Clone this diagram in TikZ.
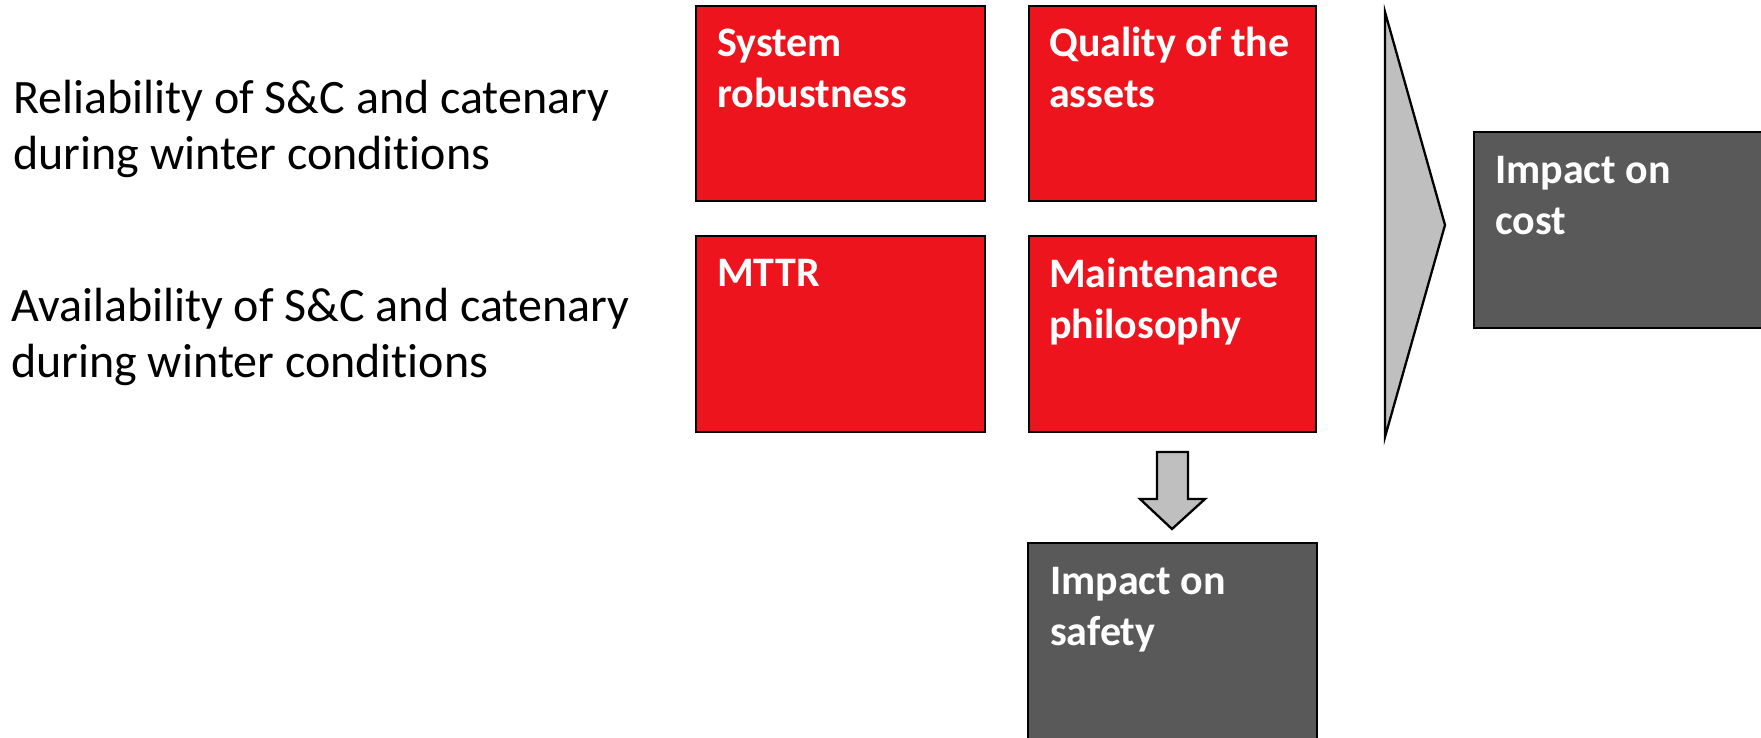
\documentclass[tikz,border=0pt]{standalone}
\usepackage{fontspec}
\setmainfont{Carlito}[Ligatures=NoCommon]
\definecolor{myred}{RGB}{237,20,30}
\definecolor{mygray}{RGB}{89,89,89}
\definecolor{arrowgray}{RGB}{191,191,191}
\begin{document}
\begin{tikzpicture}[x=1pt,y=-1pt,
  redbox/.style={draw=black, line width=2.3pt, fill=myred},
  graybox/.style={draw=black, line width=2.3pt, fill=mygray},
  boxtext/.style={text=white, font=\fontsize{42}{51}\selectfont\bfseries, align=left, inner sep=0pt, anchor=base west},
  sidetext/.style={text=black, font=\fontsize{48}{56}\selectfont, align=left, inner sep=0pt, anchor=base west},
  arrowshape/.style={draw=black, line width=2.3pt, fill=arrowgray, line join=miter}]
\useasboundingbox (0,0) rectangle (1761,737);
\clip (0,0) rectangle (1761,737);
\fill[white] (0,0) rectangle (1761,737);

% red boxes
\draw[redbox] (696,6) rectangle (985,201);
\draw[redbox] (1029,6) rectangle (1316,201);
\draw[redbox] (696,236) rectangle (985,432);
\draw[redbox] (1029,236) rectangle (1316,432);
% gray boxes (cut by page edge)
\draw[graybox] (1028,543) rectangle (1317,770);
\draw[graybox] (1474,132) rectangle (1800,328);

% chevron
\coordinate (chT) at (1385,12);
\coordinate (chP) at (1445,225);
\coordinate (chB) at (1385,437);
\draw[arrowshape] (chT) -- (chP) -- (chB) -- cycle;

% down arrow
\draw[arrowshape] (1157,452) -- (1188,452) -- (1188,499) -- (1205,499) -- (1172,529) -- (1140,499) -- (1157,499) -- cycle;

% texts (anchor = baseline of last line)
\node[sidetext] (rel) at (13,169) {Reliability of S\&C and catenary\\during winter conditions};
\node[sidetext] (ava) at (11,377) {Availability of S\&C and catenary\\during winter conditions};
\node[boxtext] (sysT) at (717,107) {System\\robustness};
\node[boxtext] (qualT) at (1049,107) {Quality of the\\assets};
\node[boxtext] (mttrT) at (717,286) {MTTR};
\node[boxtext] (maintT) at (1049,338) {Maintenance\\philosophy};
\node[boxtext] (safeT) at (1050,645) {Impact on\\safety};
\node[boxtext] (costT) at (1495,234) {Impact on\\cost};
\end{tikzpicture}
\end{document}
